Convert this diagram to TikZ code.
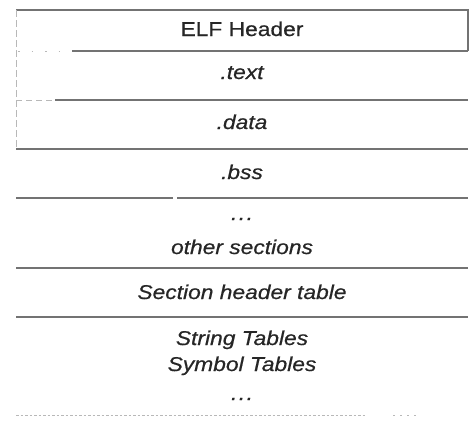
\documentclass[tikz,border=0pt]{standalone}
\usepackage{fontspec}
\setmainfont{Liberation Sans}[FakeStretch=1.14,FakeBold=0.6]
\begin{document}
\begin{tikzpicture}[x=1bp,y=-1bp,
  rule/.style={draw=black!55,line width=1.2bp},
  faint/.style={draw=black!28,line width=0.9bp},
  label/.style={anchor=base,inner sep=0pt,font=\fontsize{20bp}{23bp}\selectfont,text=black!85},
  seclabel/.style={label,font=\fontsize{20bp}{23bp}\selectfont\itshape}]
\useasboundingbox (0,0) rectangle (474,430);

% ELF header box: solid top and right edges, faint left edge
\draw[rule] (16,10) -- (468,10) -- (468,51);
\draw[faint,dash pattern=on 7bp off 3bp] (16,10) -- (16,150);
\draw[faint,dash pattern=on 1.5bp off 12bp] (18,51) -- (72,51);
\draw[rule] (72,51) -- (468,51);

% row separators
\draw[faint,dash pattern=on 6bp off 4bp] (16,100) -- (55,100);
\draw[rule] (55,100) -- (468,100);
\draw[rule] (16,149) -- (468,149);
\draw[rule] (16,198) -- (173,198);
\draw[rule] (177,198) -- (468,198);
\draw[rule] (16,268) -- (468,268);
\draw[rule] (16,317) -- (468,317);

% open-ended bottom edge
\draw[faint,dash pattern=on 2.5bp off 2bp] (16,415) -- (365,415);
\draw[faint,dash pattern=on 2bp off 5bp] (393,415) -- (416,415);

% section names
\node[label]    (elf)    at (242,36)  {ELF Header};
\node[seclabel] (text)   at (242,79)  {.text};
\node[seclabel] (data)   at (242,129) {.data};
\node[seclabel] (bss)    at (242,179) {.bss};
\node[seclabel] (dots1)  at (242,220) {.\kern1.5bp.\kern1.5bp.};
\node[seclabel] (other)  at (242,254) {other sections};
\node[seclabel] (sht)    at (242,299) {Section header table};
\node[seclabel] (str)    at (242,345) {String Tables};
\node[seclabel] (sym)    at (242,371) {Symbol Tables};
\node[seclabel] (dots2)  at (242,400) {.\kern1.5bp.\kern1.5bp.};
\end{tikzpicture}
\end{document}
